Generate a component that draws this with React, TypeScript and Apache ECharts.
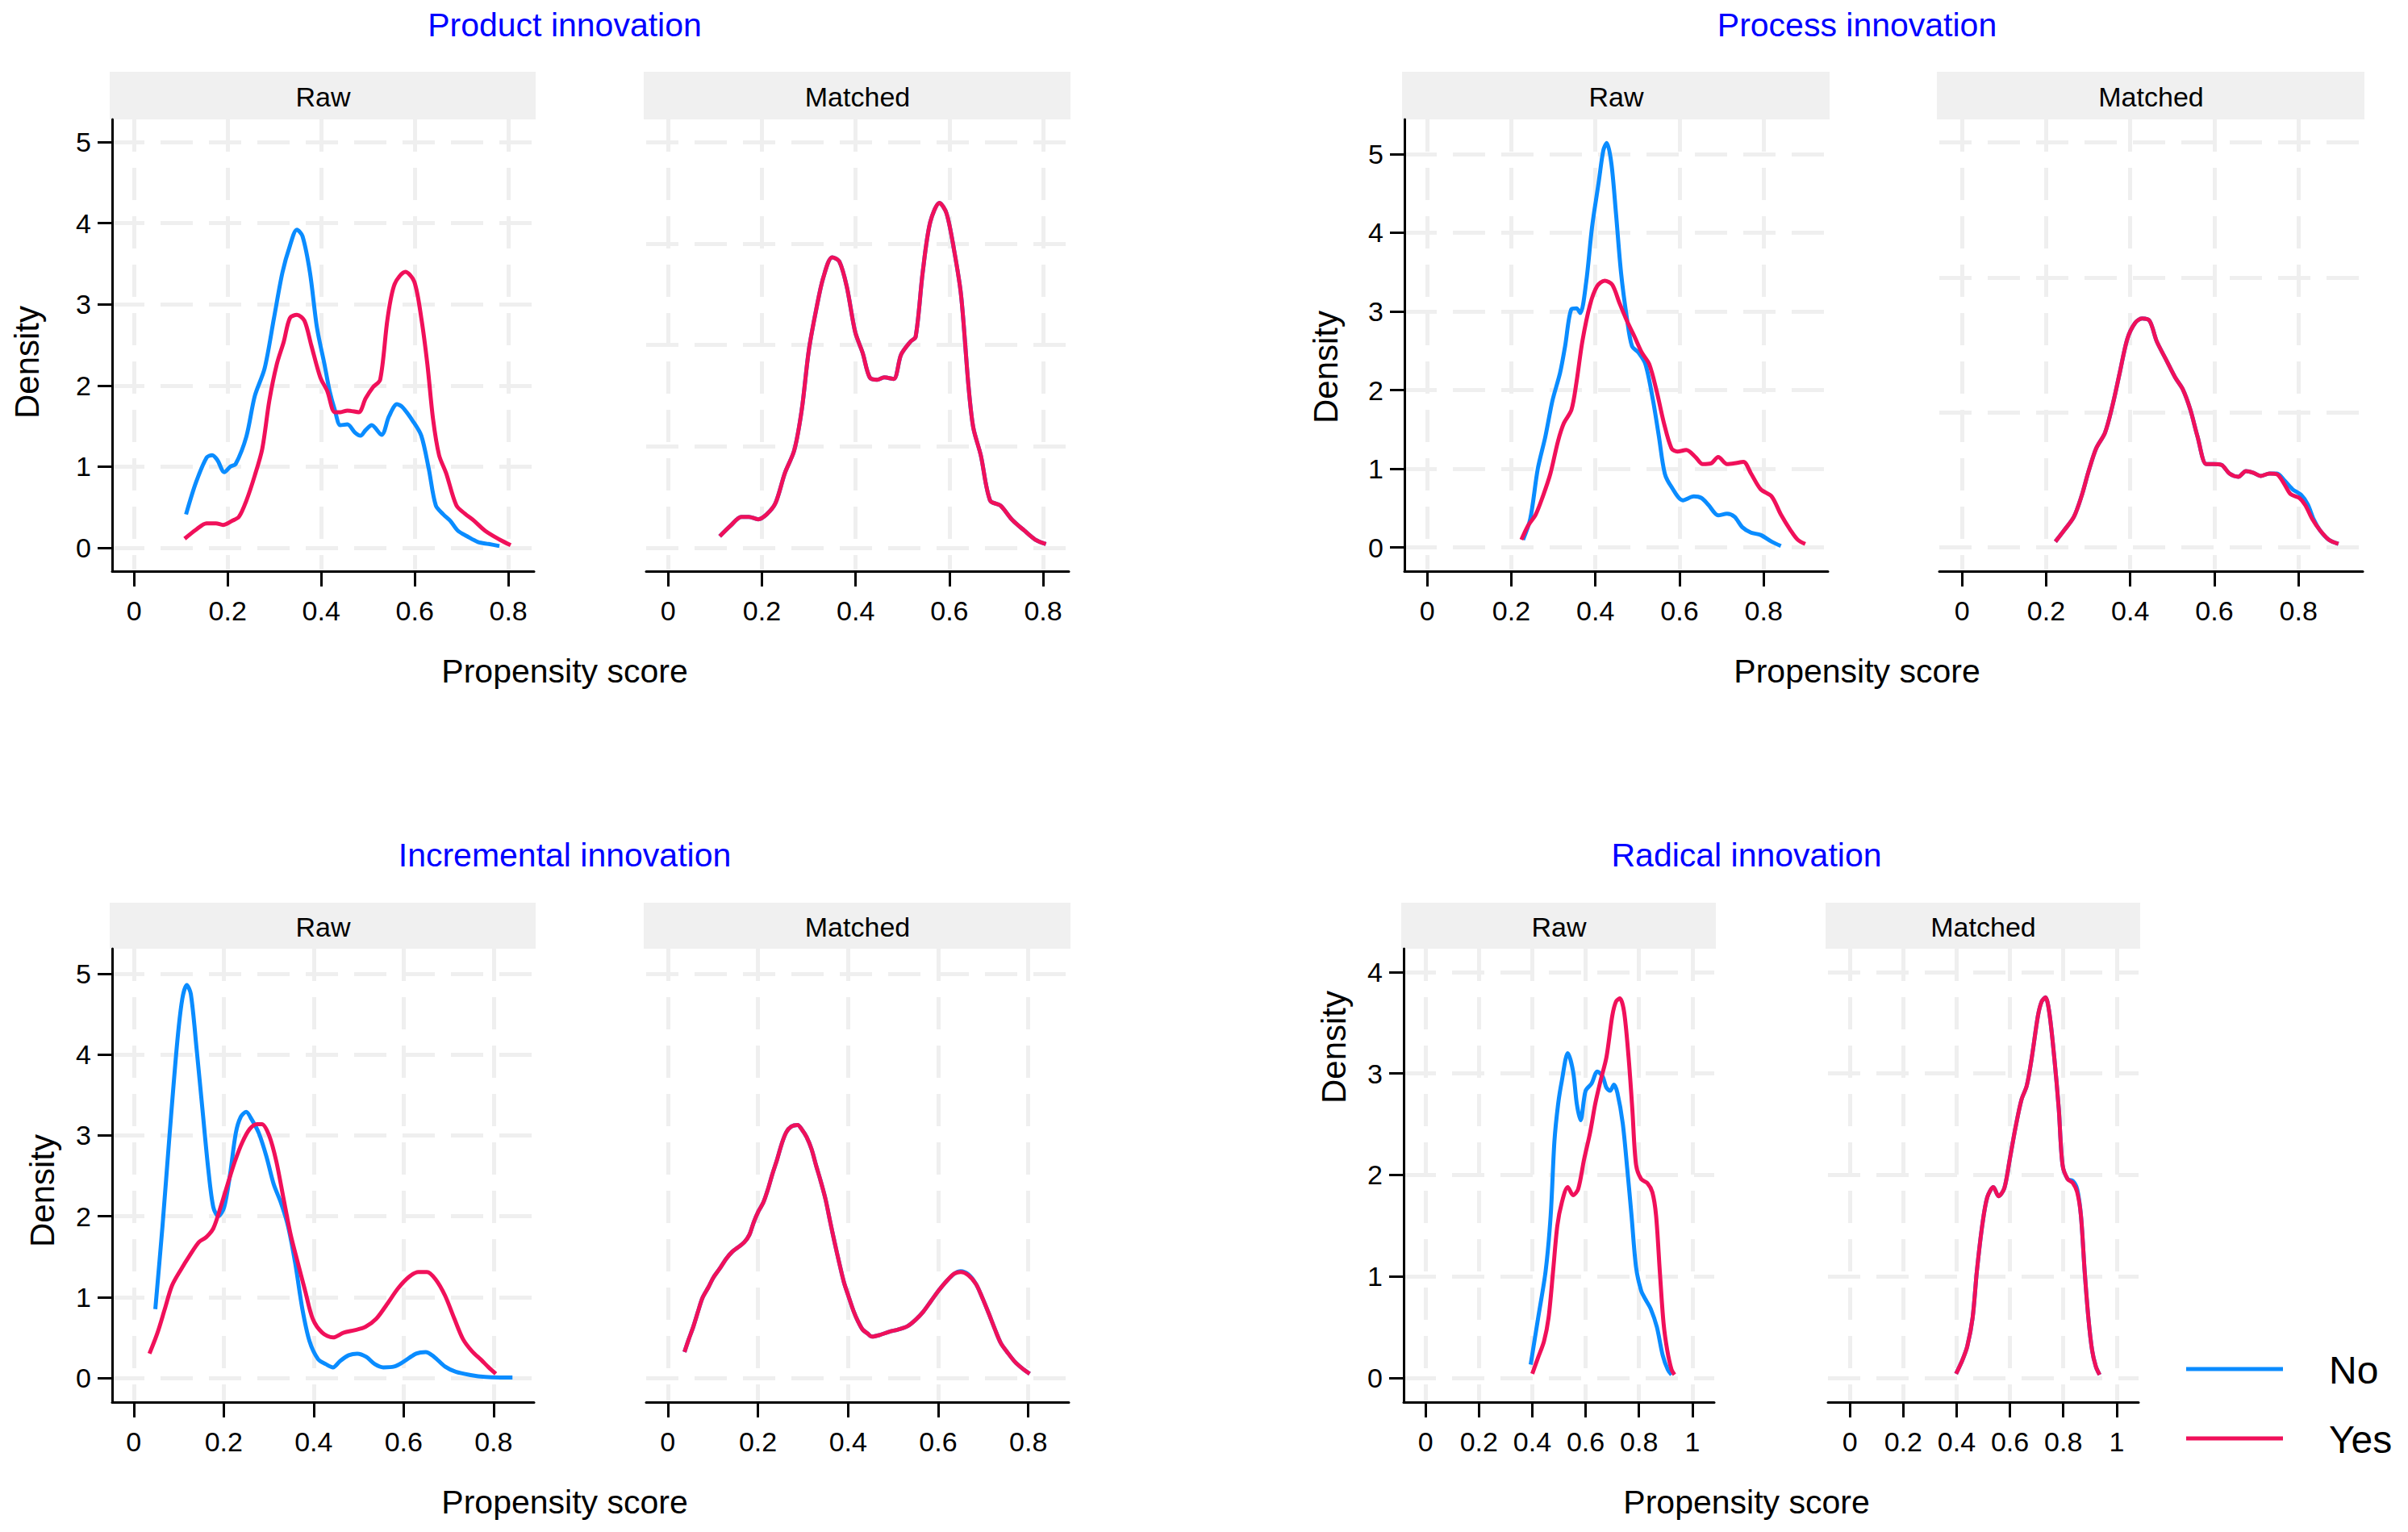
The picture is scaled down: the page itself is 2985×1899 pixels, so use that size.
import React, { useEffect, useRef } from "react";
import * as echarts from "echarts";

// ---------------- data ----------------
const figureTitles = ["Product innovation", "Process innovation", "Incremental innovation", "Radical innovation"];
const panelLabels = ["Raw", "Matched"];
const legendLabels = ["No", "Yes"];
const xAxisTitle = "Propensity score";
const yAxisTitle = "Density";

const xTicksA = [0, 0.2, 0.4, 0.6, 0.8];
const xTicksB = [0, 0.2, 0.4, 0.6, 0.8, 1];
const yTicks5 = [0, 1, 2, 3, 4, 5];
const yTicks4 = [0, 1, 2, 3, 4];
const matchedGridProduct = [0, 1.25, 2.5, 3.75, 5];
const matchedGridProcess = [0, 1.717, 3.433, 5.15];
const matchedGridIncremental = [0, 5];
const matchedGridRadical = [0, 1, 2, 3, 4];

const productRawNo = [[0.111,0.41],[0.132,0.80],[0.155,1.11],[0.167,1.14],[0.178,1.08],[0.193,0.93],[0.206,1.0],[0.217,1.03],[0.24,1.37],[0.258,1.87],[0.279,2.21],[0.299,2.83],[0.317,3.39],[0.333,3.72],[0.348,3.92],[0.36,3.84],[0.376,3.39],[0.391,2.71],[0.407,2.26],[0.418,1.93],[0.429,1.70],[0.441,1.51],[0.456,1.52],[0.472,1.42],[0.484,1.38],[0.495,1.45],[0.508,1.51],[0.529,1.39],[0.545,1.62],[0.562,1.77],[0.574,1.73],[0.596,1.56],[0.614,1.38],[0.630,0.97],[0.645,0.52],[0.661,0.41],[0.676,0.33],[0.692,0.21],[0.712,0.14],[0.735,0.07],[0.758,0.045],[0.781,0.02]];
const productRawYes = [[0.108,0.11],[0.132,0.22],[0.155,0.30],[0.175,0.30],[0.19,0.28],[0.209,0.33],[0.224,0.38],[0.24,0.58],[0.258,0.89],[0.274,1.22],[0.289,1.81],[0.305,2.26],[0.32,2.54],[0.333,2.83],[0.348,2.87],[0.364,2.80],[0.379,2.49],[0.398,2.10],[0.413,1.93],[0.429,1.67],[0.441,1.67],[0.456,1.69],[0.48,1.67],[0.495,1.84],[0.511,1.98],[0.526,2.07],[0.542,2.83],[0.557,3.25],[0.58,3.40],[0.599,3.28],[0.614,2.83],[0.627,2.26],[0.639,1.59],[0.652,1.14],[0.667,0.92],[0.689,0.52],[0.707,0.42],[0.727,0.33],[0.75,0.21],[0.781,0.10],[0.805,0.03]];
const productMatchedYes = [[0.11,0.14],[0.133,0.27],[0.156,0.38],[0.172,0.38],[0.192,0.35],[0.21,0.41],[0.229,0.55],[0.249,0.92],[0.269,1.20],[0.285,1.70],[0.30,2.43],[0.316,2.94],[0.331,3.33],[0.35,3.58],[0.365,3.53],[0.381,3.22],[0.399,2.66],[0.415,2.40],[0.43,2.10],[0.446,2.07],[0.461,2.10],[0.481,2.08],[0.497,2.38],[0.517,2.54],[0.528,2.60],[0.543,3.39],[0.559,4.01],[0.579,4.25],[0.594,4.12],[0.61,3.67],[0.625,3.11],[0.641,1.98],[0.651,1.48],[0.667,1.14],[0.687,0.58],[0.709,0.52],[0.733,0.35],[0.76,0.21],[0.783,0.10],[0.806,0.045]];
const productMatchedNo = [[0.11,0.14],[0.133,0.27],[0.156,0.38],[0.172,0.38],[0.192,0.35],[0.21,0.41],[0.229,0.55],[0.249,0.92],[0.269,1.20],[0.285,1.70],[0.30,2.43],[0.316,2.94],[0.331,3.33],[0.35,3.58],[0.365,3.53],[0.381,3.22],[0.399,2.66],[0.415,2.40],[0.43,2.10],[0.446,2.07],[0.461,2.10],[0.481,2.08],[0.497,2.38],[0.517,2.54],[0.528,2.60],[0.543,3.39],[0.559,4.01],[0.579,4.25],[0.594,4.12],[0.61,3.67],[0.625,3.11],[0.641,1.98],[0.651,1.48],[0.667,1.14],[0.687,0.58],[0.709,0.52],[0.733,0.35],[0.76,0.21],[0.783,0.10],[0.806,0.045]];

const processRawNo = [[0.228,0.10],[0.245,0.36],[0.263,1.0],[0.281,1.41],[0.298,1.87],[0.316,2.22],[0.328,2.56],[0.343,3.03],[0.355,3.04],[0.364,2.98],[0.378,3.37],[0.392,4.07],[0.408,4.65],[0.419,5.05],[0.427,5.14],[0.438,4.88],[0.449,4.24],[0.461,3.49],[0.475,2.91],[0.487,2.56],[0.502,2.48],[0.519,2.33],[0.537,1.87],[0.551,1.41],[0.565,0.94],[0.581,0.77],[0.608,0.60],[0.634,0.65],[0.652,0.63],[0.669,0.54],[0.692,0.41],[0.713,0.43],[0.731,0.39],[0.749,0.26],[0.77,0.19],[0.793,0.16],[0.819,0.075],[0.841,0.02]];
const processRawYes = [[0.224,0.10],[0.24,0.28],[0.258,0.42],[0.275,0.65],[0.293,0.94],[0.311,1.35],[0.325,1.58],[0.343,1.75],[0.355,2.10],[0.369,2.62],[0.387,3.08],[0.404,3.32],[0.422,3.39],[0.44,3.34],[0.457,3.11],[0.475,2.88],[0.493,2.68],[0.51,2.48],[0.528,2.33],[0.546,1.98],[0.563,1.58],[0.581,1.26],[0.595,1.22],[0.616,1.24],[0.638,1.15],[0.655,1.06],[0.675,1.07],[0.692,1.15],[0.713,1.06],[0.731,1.07],[0.752,1.09],[0.77,0.94],[0.793,0.74],[0.819,0.65],[0.841,0.42],[0.864,0.22],[0.881,0.10],[0.899,0.046]];
const processMatchedYes = [[0.222,0.075],[0.243,0.22],[0.266,0.39],[0.284,0.65],[0.301,0.97],[0.319,1.26],[0.34,1.46],[0.358,1.81],[0.375,2.22],[0.393,2.65],[0.411,2.85],[0.428,2.91],[0.446,2.88],[0.463,2.62],[0.485,2.39],[0.507,2.16],[0.525,2.01],[0.543,1.75],[0.56,1.41],[0.581,1.06],[0.599,1.06],[0.617,1.05],[0.636,0.94],[0.657,0.90],[0.675,0.97],[0.693,0.95],[0.71,0.91],[0.731,0.94],[0.749,0.93],[0.767,0.80],[0.781,0.68],[0.802,0.63],[0.816,0.54],[0.833,0.36],[0.851,0.22],[0.872,0.10],[0.895,0.046]];
const processMatchedNo = [[0.222,0.075],[0.243,0.22],[0.266,0.39],[0.284,0.65],[0.301,0.97],[0.319,1.26],[0.34,1.46],[0.358,1.81],[0.375,2.22],[0.393,2.65],[0.411,2.85],[0.428,2.91],[0.446,2.88],[0.463,2.62],[0.485,2.39],[0.507,2.16],[0.525,2.01],[0.543,1.75],[0.56,1.41],[0.581,1.06],[0.599,1.06],[0.617,1.05],[0.636,0.94],[0.657,0.90],[0.675,0.97],[0.693,0.95],[0.71,0.91],[0.731,0.94],[0.749,0.94],[0.767,0.85],[0.786,0.74],[0.806,0.67],[0.822,0.55],[0.836,0.36],[0.851,0.22],[0.872,0.10],[0.895,0.046]];

const incrementalRawNo = [[0.048,0.85],[0.064,1.88],[0.08,3.03],[0.097,4.17],[0.108,4.69],[0.118,4.86],[0.127,4.75],[0.14,4.06],[0.153,3.31],[0.166,2.57],[0.177,2.11],[0.188,2.0],[0.201,2.11],[0.214,2.51],[0.227,3.03],[0.238,3.23],[0.25,3.29],[0.262,3.20],[0.278,3.03],[0.295,2.74],[0.311,2.40],[0.327,2.17],[0.343,1.88],[0.359,1.42],[0.375,0.85],[0.391,0.45],[0.41,0.23],[0.427,0.17],[0.443,0.13],[0.459,0.21],[0.478,0.28],[0.497,0.30],[0.517,0.26],[0.536,0.17],[0.555,0.13],[0.579,0.14],[0.6,0.20],[0.628,0.30],[0.649,0.32],[0.668,0.26],[0.692,0.14],[0.716,0.075],[0.749,0.035],[0.781,0.011],[0.813,0.005],[0.842,0.005]];
const incrementalRawYes = [[0.035,0.30],[0.053,0.56],[0.069,0.85],[0.085,1.14],[0.105,1.34],[0.124,1.51],[0.145,1.68],[0.161,1.74],[0.177,1.85],[0.193,2.11],[0.209,2.40],[0.225,2.68],[0.241,2.91],[0.258,3.08],[0.274,3.14],[0.285,3.14],[0.301,3.0],[0.317,2.68],[0.333,2.22],[0.349,1.77],[0.365,1.42],[0.381,1.08],[0.398,0.73],[0.419,0.56],[0.443,0.50],[0.467,0.56],[0.491,0.59],[0.515,0.63],[0.539,0.73],[0.563,0.91],[0.588,1.11],[0.612,1.25],[0.633,1.31],[0.652,1.31],[0.671,1.22],[0.692,1.02],[0.713,0.73],[0.732,0.48],[0.752,0.33],[0.773,0.22],[0.789,0.13],[0.805,0.05]];
const incrementalMatchedYes = [[0.037,0.32],[0.046,0.47],[0.057,0.64],[0.067,0.82],[0.077,0.99],[0.09,1.12],[0.101,1.24],[0.115,1.35],[0.129,1.47],[0.143,1.56],[0.157,1.62],[0.17,1.68],[0.181,1.77],[0.191,1.93],[0.201,2.06],[0.212,2.17],[0.222,2.33],[0.232,2.52],[0.243,2.71],[0.253,2.90],[0.263,3.04],[0.274,3.11],[0.288,3.13],[0.298,3.07],[0.308,2.98],[0.319,2.83],[0.329,2.63],[0.339,2.44],[0.35,2.21],[0.36,1.94],[0.37,1.68],[0.381,1.41],[0.391,1.18],[0.401,1.01],[0.412,0.83],[0.422,0.70],[0.432,0.60],[0.443,0.55],[0.453,0.51],[0.47,0.53],[0.491,0.57],[0.512,0.60],[0.532,0.64],[0.55,0.72],[0.567,0.82],[0.584,0.95],[0.601,1.08],[0.619,1.20],[0.636,1.29],[0.65,1.31],[0.667,1.27],[0.684,1.16],[0.698,0.99],[0.712,0.80],[0.726,0.60],[0.739,0.43],[0.753,0.32],[0.77,0.20],[0.788,0.11],[0.803,0.05]];
const incrementalMatchedNo = [[0.037,0.32],[0.046,0.47],[0.057,0.64],[0.067,0.82],[0.077,0.99],[0.09,1.12],[0.101,1.24],[0.115,1.35],[0.129,1.47],[0.143,1.56],[0.157,1.62],[0.17,1.68],[0.181,1.77],[0.191,1.93],[0.201,2.06],[0.212,2.17],[0.222,2.33],[0.232,2.52],[0.243,2.71],[0.253,2.90],[0.263,3.04],[0.274,3.11],[0.288,3.13],[0.298,3.07],[0.308,2.98],[0.319,2.83],[0.329,2.63],[0.339,2.44],[0.35,2.21],[0.36,1.94],[0.37,1.68],[0.381,1.41],[0.391,1.18],[0.401,1.01],[0.412,0.83],[0.422,0.70],[0.432,0.60],[0.443,0.55],[0.453,0.51],[0.47,0.53],[0.491,0.57],[0.512,0.60],[0.532,0.64],[0.55,0.72],[0.567,0.82],[0.584,0.95],[0.601,1.08],[0.619,1.20],[0.636,1.29],[0.65,1.32],[0.667,1.28],[0.684,1.16],[0.698,0.99],[0.712,0.80],[0.726,0.60],[0.739,0.43],[0.753,0.32],[0.77,0.20],[0.788,0.11],[0.803,0.05]];

const radicalRawNo = [[0.394,0.13],[0.422,0.59],[0.45,1.05],[0.469,1.60],[0.483,2.33],[0.497,2.70],[0.511,2.93],[0.533,3.20],[0.553,3.02],[0.567,2.70],[0.581,2.54],[0.6,2.83],[0.622,2.90],[0.644,3.02],[0.664,2.97],[0.678,2.86],[0.692,2.83],[0.706,2.89],[0.719,2.81],[0.739,2.51],[0.756,2.06],[0.772,1.60],[0.789,1.09],[0.808,0.86],[0.825,0.77],[0.844,0.68],[0.867,0.50],[0.889,0.22],[0.908,0.08],[0.922,0.03]];
const radicalRawYes = [[0.40,0.04],[0.422,0.20],[0.444,0.36],[0.461,0.59],[0.478,1.05],[0.494,1.50],[0.511,1.73],[0.533,1.88],[0.553,1.80],[0.572,1.86],[0.594,2.15],[0.617,2.42],[0.636,2.70],[0.656,2.93],[0.678,3.16],[0.70,3.57],[0.714,3.71],[0.728,3.74],[0.744,3.61],[0.761,3.16],[0.775,2.65],[0.789,2.10],[0.808,1.96],[0.831,1.92],[0.85,1.83],[0.864,1.60],[0.878,1.05],[0.892,0.54],[0.906,0.27],[0.922,0.08],[0.933,0.03]];
const radicalMatchedYes = [[0.398,0.04],[0.421,0.17],[0.44,0.31],[0.46,0.59],[0.476,1.05],[0.496,1.50],[0.515,1.78],[0.538,1.88],[0.557,1.79],[0.579,1.87],[0.599,2.15],[0.621,2.47],[0.643,2.74],[0.663,2.88],[0.682,3.16],[0.705,3.57],[0.719,3.71],[0.733,3.75],[0.747,3.61],[0.766,3.16],[0.783,2.65],[0.797,2.10],[0.816,1.96],[0.836,1.92],[0.852,1.83],[0.866,1.60],[0.88,1.05],[0.894,0.59],[0.908,0.27],[0.922,0.11],[0.936,0.03]];
const radicalMatchedNo = [[0.398,0.04],[0.421,0.17],[0.44,0.31],[0.46,0.59],[0.476,1.05],[0.496,1.50],[0.515,1.78],[0.538,1.88],[0.557,1.79],[0.579,1.87],[0.599,2.15],[0.621,2.47],[0.643,2.74],[0.663,2.88],[0.682,3.16],[0.705,3.57],[0.719,3.71],[0.733,3.75],[0.747,3.61],[0.766,3.16],[0.783,2.65],[0.797,2.10],[0.816,1.96],[0.836,1.94],[0.852,1.86],[0.866,1.60],[0.88,1.05],[0.894,0.59],[0.908,0.27],[0.922,0.11],[0.936,0.03]];

// ---------------- layout / style ----------------
const W = 2985;
const H = 1899;
const BLUE = "#0a8cff";
const RED = "#f0105a";
const GRID_COLOR = "#efefef";
const STRIP_COLOR = "#f0f0f0";
const FONT = '"Liberation Sans", Arial, Helvetica, sans-serif';

const figures = [
  {
    title: figureTitles[0], titleX: 700, titleY: 31, xTitleX: 700, xTitleY: 832, yTitleX: 33, yTitleY: 449,
    stripTop: 89, top: 148, bottom: 708, raw: [139, 662], matched: [801, 1325],
    xMin: -0.047, xMax: 0.855, yMin: -0.29, yMax: 5.28, xTicks: xTicksA, yTicks: yTicks5, matchedGrid: matchedGridProduct,
    rawNo: productRawNo, rawYes: productRawYes, matNo: productMatchedNo, matYes: productMatchedYes,
  },
  {
    title: figureTitles[1], titleX: 2302, titleY: 31, xTitleX: 2302, xTitleY: 832, yTitleX: 1643, yTitleY: 455,
    stripTop: 89, top: 148, bottom: 708, raw: [1741, 2266], matched: [2404, 2929],
    xMin: -0.054, xMax: 0.953, yMin: -0.30, yMax: 5.44, xTicks: xTicksA, yTicks: yTicks5, matchedGrid: matchedGridProcess,
    rawNo: processRawNo, rawYes: processRawYes, matNo: processMatchedNo, matYes: processMatchedYes,
  },
  {
    title: figureTitles[2], titleX: 700, titleY: 1060, xTitleX: 700, xTitleY: 1862, yTitleX: 52, yTitleY: 1476,
    stripTop: 1119, top: 1176, bottom: 1738, raw: [139, 662], matched: [801, 1325],
    xMin: -0.048, xMax: 0.89, yMin: -0.30, yMax: 5.31, xTicks: xTicksA, yTicks: yTicks5, matchedGrid: matchedGridIncremental,
    rawNo: incrementalRawNo, rawYes: incrementalRawYes, matNo: incrementalMatchedNo, matYes: incrementalMatchedYes,
  },
  {
    title: figureTitles[3], titleX: 2165, titleY: 1060, xTitleX: 2165, xTitleY: 1862, yTitleX: 1653, yTitleY: 1298,
    stripTop: 1119, top: 1176, bottom: 1738, raw: [1740, 2125], matched: [2266, 2651],
    xMin: -0.082, xMax: 1.082, yMin: -0.24, yMax: 4.23, xTicks: xTicksB, yTicks: yTicks4, matchedGrid: matchedGridRadical,
    rawNo: radicalRawNo, rawYes: radicalRawYes, matNo: radicalMatchedNo, matYes: radicalMatchedYes,
  },
];

const legendLayout = { x1: 2710, x2: 2830, textX: 2887, y: [1697, 1783], fontSize: 48 };

function fmt(v: number) {
  return String(Math.round(v * 10) / 10);
}

function buildOption() {
  const grid: any[] = [];
  const xAxis: any[] = [];
  const yAxis: any[] = [];
  const series: any[] = [];
  const graphic: any[] = [];

  figures.forEach((f, fi) => {
    [f.raw, f.matched].forEach((lr, pi) => {
      const gi = fi * 2 + pi;
      const isRaw = pi === 0;
      grid.push({ left: lr[0], top: f.top, width: lr[1] - lr[0], height: f.bottom - f.top, containLabel: false });
      xAxis.push({
        type: "value", gridIndex: gi, min: f.xMin, max: f.xMax, z: 20,
        axisLine: { show: true, onZero: false, lineStyle: { color: "#000", width: 3 } },
        axisTick: { show: true, length: 19, customValues: f.xTicks, lineStyle: { color: "#000", width: 3 } },
        axisLabel: { show: true, customValues: f.xTicks, margin: 32, fontSize: 34, color: "#000", fontFamily: FONT, formatter: fmt },
        splitLine: { show: false },
      });
      yAxis.push(
        isRaw
          ? {
              type: "value", gridIndex: gi, min: f.yMin, max: f.yMax, z: 20,
              axisLine: { show: true, onZero: false, lineStyle: { color: "#000", width: 3 } },
              axisTick: { show: true, length: 18, customValues: f.yTicks, lineStyle: { color: "#000", width: 3 } },
              axisLabel: { show: true, customValues: f.yTicks, margin: 26, fontSize: 34, color: "#000", fontFamily: FONT, formatter: fmt },
              splitLine: { show: false },
            }
          : {
              type: "value", gridIndex: gi, min: f.yMin, max: f.yMax,
              axisLine: { show: false }, axisTick: { show: false }, axisLabel: { show: false }, splitLine: { show: false },
            }
      );
      const hVals = isRaw ? f.yTicks : f.matchedGrid;
      const ml: any[] = [];
      f.xTicks.forEach((x) => ml.push([{ coord: [x, f.yMax] }, { coord: [x, f.yMin] }]));
      hVals.forEach((y) => ml.push([{ coord: [f.xMin, y] }, { coord: [f.xMax, y] }]));
      series.push({
        type: "line", xAxisIndex: gi, yAxisIndex: gi, data: [], silent: true, z: 1,
        markLine: {
          z: 1, silent: true, symbol: ["none", "none"], label: { show: false }, emphasis: { disabled: true },
          lineStyle: { color: GRID_COLOR, width: 5, type: [40, 20] }, data: ml,
        },
      });
      const noData = isRaw ? f.rawNo : f.matNo;
      const yesData = isRaw ? f.rawYes : f.matYes;
      series.push({
        type: "line", name: legendLabels[0], xAxisIndex: gi, yAxisIndex: gi, data: noData, showSymbol: false, symbol: "none",
        smooth: 0.3, silent: true, z: 10, lineStyle: { color: BLUE, width: 5 }, itemStyle: { color: BLUE },
      });
      series.push({
        type: "line", name: legendLabels[1], xAxisIndex: gi, yAxisIndex: gi, data: yesData, showSymbol: false, symbol: "none",
        smooth: 0.3, silent: true, z: 11, lineStyle: { color: RED, width: 5 }, itemStyle: { color: RED },
      });
      // strip
      graphic.push({
        type: "rect", z: 0, silent: true,
        shape: { x: lr[0] - 3, y: f.stripTop, width: lr[1] - lr[0] + 5, height: f.top - f.stripTop },
        style: { fill: STRIP_COLOR },
      });
      graphic.push({
        type: "text", z: 1, silent: true, x: (lr[0] + lr[1]) / 2, y: (f.stripTop + f.top) / 2 + 1,
        style: { text: panelLabels[pi], fontSize: 34, fontFamily: FONT, fill: "#000", align: "center", verticalAlign: "middle" },
      });
    });
    graphic.push({
      type: "text", silent: true, x: f.titleX, y: f.titleY,
      style: { text: f.title, fontSize: 41, fontFamily: FONT, fill: "#0000ff", align: "center", verticalAlign: "middle" },
    });
    graphic.push({
      type: "text", silent: true, x: f.xTitleX, y: f.xTitleY,
      style: { text: xAxisTitle, fontSize: 41, fontFamily: FONT, fill: "#000", align: "center", verticalAlign: "middle" },
    });
    graphic.push({
      type: "text", silent: true, x: f.yTitleX, y: f.yTitleY, rotation: Math.PI / 2,
      style: { text: yAxisTitle, fontSize: 42, fontFamily: FONT, fill: "#000", align: "center", verticalAlign: "middle" },
    });
  });

  [BLUE, RED].forEach((c, i) => {
    graphic.push({
      type: "line", silent: true,
      shape: { x1: legendLayout.x1, y1: legendLayout.y[i], x2: legendLayout.x2, y2: legendLayout.y[i] },
      style: { stroke: c, lineWidth: 5 },
    });
    graphic.push({
      type: "text", silent: true, x: legendLayout.textX, y: legendLayout.y[i] + 1,
      style: { text: legendLabels[i], fontSize: legendLayout.fontSize, fontFamily: FONT, fill: "#000", align: "left", verticalAlign: "middle" },
    });
  });

  return {
    animation: false,
    backgroundColor: "#ffffff",
    textStyle: { fontFamily: FONT },
    grid, xAxis, yAxis, series, graphic,
  };
}

export default function App() {
  const ref = useRef<HTMLDivElement | null>(null);
  useEffect(() => {
    if (!ref.current) return;
    const chart = echarts.init(ref.current, undefined, { renderer: "svg" });
    chart.setOption(buildOption() as any);
    return () => chart.dispose();
  }, []);
  return (
    <div
      ref={ref}
      style={{ position: "fixed", left: 0, top: 0, width: W, height: H, background: "#fff" }}
    />
  );
}
